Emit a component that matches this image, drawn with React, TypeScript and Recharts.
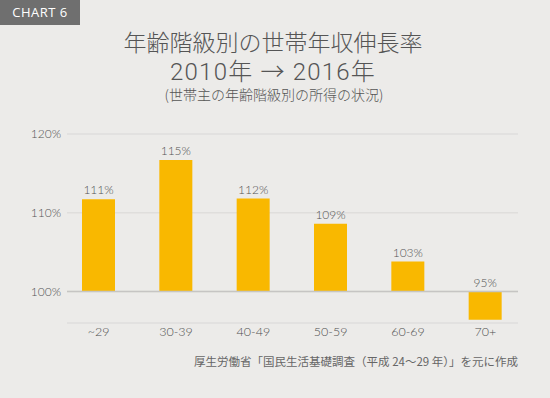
import React from 'react';
import {
  BarChart,
  Bar,
  XAxis,
  YAxis,
  CartesianGrid,
  ReferenceLine,
  LabelList,
} from 'recharts';

// 年齢階級（世帯主）
const ageGroups = ['~29', '30-39', '40-49', '50-59', '60-69', '70+'];
// 棒の高さ（2010年=100%とした伸長率、図から読み取り）
const growthRates = [111.7, 116.7, 111.8, 108.6, 103.8, 96.4];
// 棒の上に表示されているラベル
const rateLabels = ['111%', '115%', '112%', '109%', '103%', '95%'];
// 縦軸の目盛り
const yTicks = [100, 110, 120];

const BASE = 100;

const data = ageGroups.map((name, i) => ({
  name,
  diff: growthRates[i] - BASE,
  label: rateLabels[i],
}));

const FONT = 'Lato, "Noto Sans CJK JP", sans-serif';
const JP_FONT = '"Noto Sans CJK JP", "Noto Sans", sans-serif';

// 棒の上（マイナスの棒は基準線の上）にラベルを置く
const ValueLabel = (props: any) => {
  const { x, y, width, height, value } = props;
  const top = Math.min(y, y + height);
  return (
    <text
      x={x + width / 2}
      y={top - 5}
      textAnchor="middle"
      fontSize={12}
      fontFamily={FONT}
      fontWeight={300}
      fill="#555"
    >
      {value}
    </text>
  );
};

export default function App() {
  return (
    <div
      style={{
        position: 'absolute',
        left: 0,
        top: 0,
        width: 550,
        height: 398,
        background: '#ecebe9',
        overflow: 'hidden',
      }}
    >
      {/* バッジ */}
      <div
        style={{
          position: 'absolute',
          left: 0,
          top: 0,
          width: 80,
          height: 25,
          background: '#6f6f6f',
          color: '#fff',
          fontFamily: '"Open Sans", Roboto, sans-serif',
          fontSize: 13,
          lineHeight: '25px',
          textAlign: 'center',
          letterSpacing: 0.5,
        }}
      >
        CHART 6
      </div>

      {/* タイトル */}
      <div
        style={{
          position: 'absolute',
          left: 0,
          width: 546,
          top: 30,
          textAlign: 'center',
          fontFamily: JP_FONT,
          fontSize: 23,
          fontWeight: 300,
          lineHeight: '23px',
          color: '#555',
        }}
      >
        年齢階級別の世帯年収伸長率
      </div>
      <div
        style={{
          position: 'absolute',
          left: 0,
          width: 546,
          top: 61,
          textAlign: 'center',
          fontFamily: 'Roboto, ' + JP_FONT,
          fontSize: 24,
          fontWeight: 300,
          lineHeight: '22px',
          letterSpacing: 1.2,
          color: '#555',
        }}
      >
        2010年 → 2016年
      </div>
      <div
        style={{
          position: 'absolute',
          left: 0,
          width: 548,
          top: 87,
          textAlign: 'center',
          fontFamily: JP_FONT,
          fontSize: 14,
          fontWeight: 300,
          lineHeight: '14px',
          color: '#555',
        }}
      >
        (世帯主の年齢階級別の所得の状況)
      </div>

      <div style={{ position: 'absolute', left: 0, top: 0 }}>
        <BarChart
          width={550}
          height={398}
          data={data}
          margin={{ top: 134, right: 32, bottom: 45, left: 0 }}
        >
          <CartesianGrid vertical={false} stroke="#dfdedc" strokeWidth={1.5} />
          <XAxis
            dataKey="name"
            axisLine={false}
            tickLine={false}
            tickSize={0}
            tickMargin={4}
            height={30}
            padding={{ left: -7, right: -6 }}
            interval={0}
            tick={{ fontSize: 12.5, fontFamily: FONT, fontWeight: 300, fill: '#4f4f4f' }}
          />
          <YAxis
            type="number"
            domain={[-4, 20]}
            allowDataOverflow
            ticks={yTicks.map((t) => t - BASE)}
            tickFormatter={(v: number) => `${v + BASE}%`}
            width={67}
            axisLine={false}
            tickLine={false}
            tickSize={0}
            tickMargin={6}
            tick={{ fontSize: 12, fontFamily: FONT, fontWeight: 300, fill: '#555' }}
          />
          <ReferenceLine y={0} stroke="#c6c5c3" strokeWidth={1.5} />
          <Bar dataKey="diff" fill="#f9b800" barSize={33} isAnimationActive={false}>
            <LabelList dataKey="label" content={<ValueLabel />} />
          </Bar>
        </BarChart>
      </div>

      {/* 出典 */}
      <div
        style={{
          position: 'absolute',
          right: 32,
          top: 355,
          fontFamily: JP_FONT,
          fontSize: 11.5,
          lineHeight: '12px',
          color: '#666',
          whiteSpace: 'nowrap',
        }}
      >
        厚生労働省「国民生活基礎調査（平成 24〜29 年）」を元に作成
      </div>
    </div>
  );
}
